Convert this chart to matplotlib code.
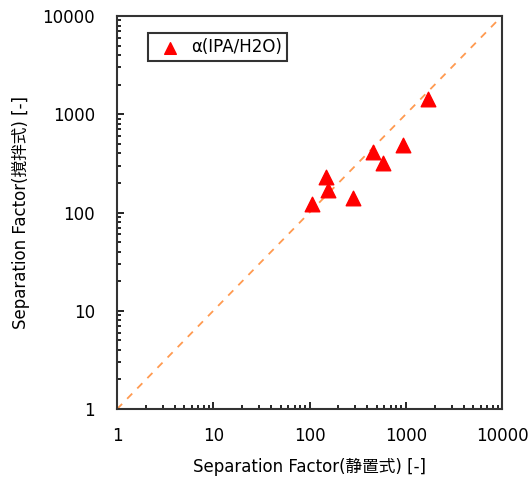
import matplotlib
matplotlib.use("Agg")
import matplotlib.pyplot as plt
from matplotlib.ticker import LogLocator, FixedLocator, NullFormatter

plt.rcParams['font.family'] = ['DejaVu Sans', 'Noto Sans CJK JP']

# 静置式 vs 撹拌式 の分離係数
sf_static = [106, 148, 155, 283, 456, 578, 930, 1700]
sf_stirred = [122, 230, 169, 140, 410, 318, 490, 1430]
diag = [1, 10000]
ticks = [1, 10, 100, 1000, 10000]
tick_labels = ['1', '10', '100', '1000', '10000']

fig = plt.figure(figsize=(5.32, 4.79), dpi=100)
ax = fig.add_axes([0.22, 0.146, 0.7236, 0.8206])

ax.plot(diag, diag, linestyle=(0, (4, 4)), color='#FF9A50', linewidth=1.3)
ax.scatter(sf_static, sf_stirred, marker='^', s=110, color='red',
           edgecolors='red', zorder=3, label='α(IPA/H2O)')

ax.set_xscale('log')
ax.set_yscale('log')
ax.set_xlim(1, 10000)
ax.set_ylim(1, 10000)
ax.xaxis.set_major_locator(FixedLocator(ticks))
ax.yaxis.set_major_locator(FixedLocator(ticks))
ax.set_xticklabels(tick_labels)
ax.set_yticklabels(tick_labels)
ax.xaxis.set_minor_locator(LogLocator(base=10, subs=range(2, 10), numticks=20))
ax.yaxis.set_minor_locator(LogLocator(base=10, subs=range(2, 10), numticks=20))
ax.xaxis.set_minor_formatter(NullFormatter())
ax.yaxis.set_minor_formatter(NullFormatter())
ax.tick_params(which='both', direction='in', top=False, right=False, labelsize=12, width=1.2)
ax.tick_params(which='major', length=5)
ax.tick_params(which='minor', length=3)
ax.tick_params(axis='x', pad=13)
ax.tick_params(axis='y', pad=16)
for s in ax.spines.values():
    s.set_linewidth(1.5)
    s.set_color('#333333')

ax.set_xlabel('Separation Factor(静置式) [-]', fontsize=12, labelpad=9)
ax.set_ylabel('Separation Factor(撹拌式) [-]', fontsize=12, labelpad=9)

leg = ax.legend(loc='upper left', bbox_to_anchor=(0.08, 0.957), fontsize=12,
                fancybox=False, edgecolor='#333333', framealpha=1,
                handletextpad=0.3, borderpad=0.3, borderaxespad=0,
                scatterpoints=1, markerscale=0.8)
leg.get_frame().set_linewidth(1.5)

fig.savefig('out.png', dpi=100)
